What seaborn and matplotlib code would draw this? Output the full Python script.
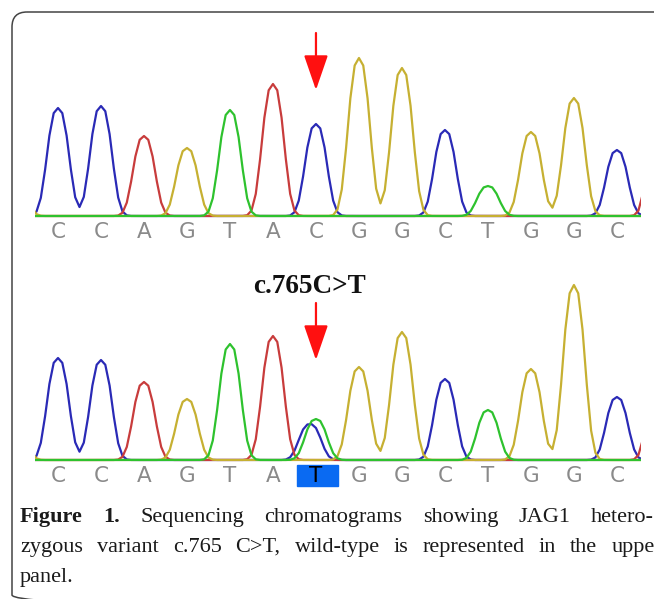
import numpy as np
import pandas as pd
import seaborn as sns
import matplotlib.pyplot as plt
from matplotlib.patches import Rectangle, FancyBboxPatch

# base calls under each panel
wt_bases = list("CCAGTACGGCTGGC")
mut_bases = list("CCAGTATGGCTGGC")
variant_idx = 6

# wild-type peaks (position in bases, channel, height)
wt_pos = [-1, 0, 1, 2, 3, 4, 5, 6, 7, 8, 9, 10, 11, 12, 13, 14]
wt_chan = ["G", "C", "C", "A", "G", "T", "A", "C", "G", "G", "C", "T", "G", "G", "C", "A"]
wt_height = [45, 108, 110, 80, 68, 106, 132, 92, 158, 148, 86, 30, 84, 118, 66, 130]

# heterozygous peaks (C and T both present at the variant)
mut_pos = [-1, 0, 1, 2, 3, 4, 5, 5.86, 6, 7, 8, 9, 10, 11, 12, 13, 14]
mut_chan = ["G", "C", "C", "A", "G", "T", "A", "C", "T", "G", "G", "C", "T", "G", "G", "C", "A"]
mut_height = [40, 102, 100, 78, 61, 116, 124, 36, 41, 93, 128, 81, 50, 91, 175, 63, 120]

colors = {"C": "#2a2ab6", "A": "#c83c3c", "G": "#c6b032", "T": "#2ec22e"}

caption1 = ["Figure", "1.", "Sequencing", "chromatograms", "showing", "JAG1", "hetero-"]
caption2 = ["zygous", "variant", "c.765", "C>T,", "wild-type", "is", "represented", "in", "the", "upper"]
caption3 = "panel."


def make_traces(pos, chan, height):
    x = np.arange(-0.6, 13.65, 0.1)
    frames = []
    for ch in "CAGT":
        y = np.zeros_like(x)
        for p, c, h in zip(pos, chan, height):
            if c == ch:
                y += h * np.exp(-(np.abs(x - p) / 0.32) ** 2.6)
        frames.append(pd.DataFrame({"pos": x, "signal": y, "base": ch}))
    return pd.concat(frames, ignore_index=True)


sns.set_theme(style="white")
plt.rcParams['font.family'] = ['DejaVu Sans']

W, H = 654, 599
fig = plt.figure(figsize=(W / 100, H / 100), dpi=100)

# background axes in pixel units, for the frame and caption
bg = fig.add_axes([0, 0, 1, 1], zorder=-1)
bg.set_xlim(0, W)
bg.set_ylim(H, 0)
bg.axis("off")
bg.add_patch(FancyBboxPatch((12, 12), 700, 598, boxstyle="round,pad=0,rounding_size=15",
                            fill=False, ec="#444444", lw=1.1))

x_lo, x_hi = -0.535, 13.56


def panel(top_px, bot_px, base_px):
    ax = fig.add_axes([35 / W, 1 - bot_px / H, 606 / W, (bot_px - top_px) / H])
    ax.set_xlim(x_lo, x_hi)
    ax.set_ylim(-(bot_px - base_px), base_px - top_px)
    ax.axis("off")
    return ax


ax1 = panel(20, 250, 216)
ax2 = panel(270, 495, 460)

for ax, (pos, chan, height), bases in [(ax1, (wt_pos, wt_chan, wt_height), wt_bases),
                                       (ax2, (mut_pos, mut_chan, mut_height), mut_bases)]:
    df = make_traces(pos, chan, height)
    sns.lineplot(data=df, x="pos", y="signal", hue="base", hue_order=["C", "A", "G", "T"],
                 palette=colors, lw=1.6, legend=False, ax=ax, estimator=None, sort=False)
    ax.set_xlim(x_lo, x_hi)
    ax.axis("off")
    for i, b in enumerate(bases):
        c = "#8a8a8a"
        if ax is ax2 and i == variant_idx:
            ax.add_patch(Rectangle((i - 0.44, -26), 0.95, 21, color="#0a6af2", clip_on=False))
            c = "black"
        ax.text(i, -16.5, b, ha="center", va="center", fontsize=15.5, color=c)

# red arrows over the variant position
for ax, y0, y1 in [(ax1, 183, 126), (ax2, 157, 100)]:
    ax.annotate("", xy=(variant_idx, y1), xytext=(variant_idx, y0),
                arrowprops=dict(arrowstyle="-|>,head_length=1.45,head_width=0.5",
                                color="#ff1010", lw=1.6, mutation_scale=15, shrinkA=0, shrinkB=0),
                annotation_clip=False)

ax2.text(5.84, 167, "c.765C>T", ha="center", va="baseline", fontsize=19.5,
         family="Liberation Serif", fontweight="bold", color="#111111")

# justified caption
renderer = fig.canvas.get_renderer()
cap_size = 16


def caption_line(words, n_bold, y, x0, x1):
    ts = [bg.text(0, y, w, fontsize=cap_size, family="Liberation Serif",
                  fontweight="bold" if i < n_bold else "normal",
                  va="baseline", ha="left", color="#1a1a1a")
          for i, w in enumerate(words)]
    widths = [t.get_window_extent(renderer).width for t in ts]
    gap = (x1 - x0 - sum(widths)) / (len(words) - 1)
    x = x0
    for t, w in zip(ts, widths):
        t.set_x(x)
        x += w + gap


caption_line(caption1, 2, 522, 20, 654)
caption_line(caption2, 0, 552, 20, 662)
bg.text(20, 582, caption3, fontsize=cap_size, family="Liberation Serif", va="baseline",
        ha="left", color="#1a1a1a")

fig.savefig("out.png", dpi=100)
